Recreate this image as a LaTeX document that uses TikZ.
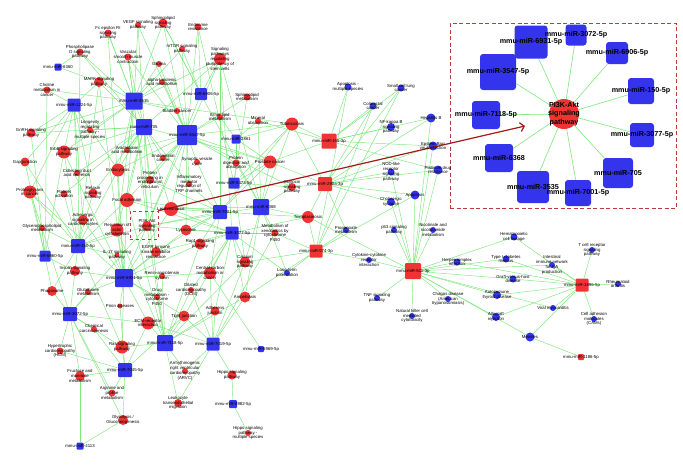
\documentclass[tikz,border=0pt]{standalone}
\usepackage{fontspec}
\setmainfont{Liberation Sans}
\usetikzlibrary{arrows.meta}
\definecolor{redc}{RGB}{240,52,52}
\definecolor{bluec}{RGB}{52,52,236}
\definecolor{edgec}{RGB}{125,232,125}
\definecolor{boxc}{RGB}{185,60,60}
\definecolor{arrc}{RGB}{165,25,25}
\pgfdeclarelayer{bg}\pgfdeclarelayer{fg}\pgfdeclarelayer{paper}\pgfsetlayers{paper,bg,main,fg}
\tikzset{
  lab/.style={font=\fontsize{4.3pt}{4.8pt}\selectfont, align=center, inner sep=0pt, text=black},
  ilab/.style={font=\bfseries\fontsize{7.2pt}{8.4pt}\selectfont, align=center, inner sep=0pt, text=black},
  rcirc/.style={circle, fill=redc, inner sep=0pt},
  bcirc/.style={circle, fill=bluec, inner sep=0pt},
  bsq/.style={rectangle, rounded corners=1pt, fill=bluec, inner sep=0pt},
  rsq/.style={rectangle, rounded corners=1pt, fill=redc, inner sep=0pt},
  isq/.style={rectangle, rounded corners=3pt, fill=bluec, inner sep=0pt},
  edge/.style={draw=edgec, line width=0.45pt},
  iedge/.style={draw=edgec, line width=0.6pt},
}
\newcommand\mkrc[5]{\node[rcirc, minimum size=#4pt] (#1) at (#2,#3) {};\begin{pgfonlayer}{fg}\node[lab] (#1-l) at (#2,#3) {#5};\end{pgfonlayer}}
\newcommand\mkbc[5]{\node[bcirc, minimum size=#4pt] (#1) at (#2,#3) {};\begin{pgfonlayer}{fg}\node[lab] (#1-l) at (#2,#3) {#5};\end{pgfonlayer}}
\newcommand\mkbs[5]{\node[bsq, minimum size=#4pt] (#1) at (#2,#3) {};\begin{pgfonlayer}{fg}\node[lab] (#1-l) at (#2,#3) {#5};\end{pgfonlayer}}
\newcommand\mkrs[5]{\node[rsq, minimum size=#4pt] (#1) at (#2,#3) {};\begin{pgfonlayer}{fg}\node[lab] (#1-l) at (#2,#3) {#5};\end{pgfonlayer}}
\newcommand\mkis[5]{\node[isq, minimum size=#4pt] (#1) at (#2,#3) {};\begin{pgfonlayer}{fg}\node[ilab] (#1-l) at (#2,#3) {#5};\end{pgfonlayer}}
\begin{document}
\begin{tikzpicture}[x=1pt,y=-1pt]
\useasboundingbox (0,0) rectangle (683,467);
\begin{pgfonlayer}{paper}
\fill[white] (0,0) rectangle (683,467);
\end{pgfonlayer}
% ---------- red pathway circles ----------
\mkrc{vegf}{138}{25}{6}{VEGF signaling\\pathway}
\mkrc{sphsig}{163}{23}{9}{Sphingolipid\\signaling\\pathway}
\mkrc{endores}{198}{27}{7}{Endocrine\\resistance}
\mkrc{fceri}{108}{33}{7}{Fc epsilon RI\\signaling\\pathway}
\mkrc{pld}{80}{52}{7}{Phospholipase\\D signaling\\pathway}
\mkrc{vsmc}{128}{57}{7}{Vascular\\smooth muscle\\contraction}
\mkrc{mtor}{182}{49}{6}{mTOR signaling\\pathway}
\mkrc{plurip}{220}{59}{12}{Signaling\\pathways\\regulating\\pluripotency of\\stem cells}
\mkrc{glioma}{159}{64}{6}{Glioma}
\mkrc{mapk}{99}{82}{10}{MAPK signaling\\pathway}
\mkrc{alinol}{162}{82}{6}{alpha-Linolenic\\acid metabolism}
\mkrc{choline}{47}{90}{7}{Choline\\metabolism in\\cancer}
\mkrc{bladder}{177}{111}{6}{Bladder cancer}
\mkrc{ether}{220}{117}{6}{Ether lipid\\metabolism}
\mkrc{sphmet}{247}{97}{7}{Sphingolipid\\metabolism}
\mkrc{mineral}{258}{121}{6}{Mineral\\absorption}
\mkrc{tuber}{292}{124}{13}{Tuberculosis}
\mkrc{longev}{90}{130}{6}{Longevity\\regulating\\pathway -\\multiple species}
\mkrc{gnrh}{31}{133}{9}{GnRH signaling\\pathway}
\mkrc{erbb}{64}{152}{13}{ErbB signaling\\pathway}
\mkrc{arach}{127}{150}{6}{Arachidonic\\acid metabolism}
\mkrc{endomet}{163}{158}{6}{Endometrial\\cancer}
\mkrc{synves}{197}{162}{6}{Synaptic vesicle\\cycle}
\mkrc{protdig}{236}{163}{7}{Protein\\digestion and\\absorption}
\mkrc{prostate}{270}{162}{13}{Prostate cancer}
\mkrc{gapj}{25}{162}{9}{Gap junction}
\mkrc{cduct}{77}{173}{6}{Collecting duct\\acid secretion}
\mkrc{endocyt}{118}{170}{13}{Endocytosis}
\mkrc{protproc}{150}{180}{8}{Protein\\processing in\\endoplasmic\\reticulum}
\mkrc{trp}{189}{184}{6}{Inflammatory\\mediator\\regulation of\\TRP channels}
\mkrc{oxyt}{292}{187}{8}{Oxytocin\\signaling\\pathway}
\mkrc{proteog}{30}{192}{13}{Proteoglycans\\in cancer}
\mkrc{platelet}{64}{194}{7}{Platelet\\activation}
\mkrc{relaxin}{93}{193}{9}{Relaxin\\signaling\\pathway}
\mkrc{focal}{127}{200}{14}{Focal adhesion}
\mkrc{leish}{171}{209}{14}{Leishmaniasis}
\mkrc{toxo}{308}{217}{12}{Toxoplasmosis}
\mkrc{adren}{83}{220}{10}{Adrenergic\\signaling in\\cardiomyocytes}
\mkrc{glycero}{42}{228}{6}{Glycerophospholipid\\metabolism}
\mkrc{actin}{117}{230}{13}{Regulation of\\actin\\cytoskeleton}
\mkrc{pi3k}{147}{226}{10}{PI3K-Akt\\signaling\\pathway}
\mkrc{lysos}{186}{230}{11}{Lysosome}
\mkrc{xeno}{275}{233}{7}{Metabolism of\\xenobiotics by\\cytochrome\\P450}
\mkrc{rap1}{200}{244}{11}{Rap1 signaling\\pathway}
\mkrc{il17}{117}{255}{5}{IL-17 signaling\\pathway}
\mkrc{egfr}{156}{252}{10}{EGFR tyrosine\\kinase inhibitor\\resistance}
\mkrc{calcium}{245}{262}{11}{Calcium\\signaling\\pathway}
\mkrc{insulin}{75}{271}{10}{Insulin signaling\\pathway}
\mkrc{renin}{162}{276}{6}{Renin-angiotensin\\system}
\mkrc{ccmc}{210}{273}{12}{Central carbon\\metabolism in\\cancer}
\mkrc{phago}{52}{291}{10}{Phagosome}
\mkrc{glut}{88}{292}{6}{Glutathione\\metabolism}
\mkrc{drug}{157}{297}{6}{Drug\\metabolism -\\cytochrome\\P450}
\mkrc{dcm}{191}{290}{6}{Dilated\\cardiomyopathy\\(DCM)}
\mkrc{amoeb}{245}{297}{11}{Amoebiasis}
\mkrc{prion}{120}{306}{5}{Prion diseases}
\mkrc{adherens}{215}{311}{9}{Adherens\\junction}
\mkrc{tight}{184}{316}{11}{Tight junction}
\mkrc{ecm}{148}{323}{13}{ECM-receptor\\interaction}
\mkrc{chemcarc}{94}{329}{6}{Chemical\\carcinogenesis}
\mkrc{hcm}{60}{351}{7}{Hypertrophic\\cardiomyopathy\\(HCM)}
\mkrc{ras}{122}{347}{13}{Ras signaling\\pathway}
\mkrc{arvc}{185}{371}{6}{Arrhythmogenic\\right ventricular\\cardiomyopathy\\(ARVC)}
\mkrc{fructose}{80}{376}{10}{Fructose and\\mannose\\metabolism}
\mkrc{hippo}{232}{375}{9}{Hippo signaling\\pathway}
\mkrc{arginine}{112}{393}{7}{Arginine and\\proline\\metabolism}
\mkrc{leuko}{178}{403}{8}{Leukocyte\\transendothelial\\migration}
\mkrc{glycol}{123}{420}{10}{Glycolysis /\\Gluconeogenesis}
\mkrc{hippomult}{248}{433}{6}{Hippo signaling\\pathway -\\multiple species}
% ---------- blue pathway circles ----------
\mkbc{apopmult}{348}{87}{7}{Apoptosis -\\multiple species}
\mkbc{sclc}{401}{88}{7}{Small cell lung\\cancer}
\mkbc{colorectal}{373}{106}{7}{Colorectal\\cancer}
\mkbc{nfkb}{391}{127}{8}{NF-kappa B\\signaling\\pathway}
\mkbc{hepb}{431}{118}{9}{Hepatitis B}
\mkbc{ebv}{433}{146}{9}{Epstein-Barr\\virus infection}
\mkbc{nod}{391}{172}{7}{NOD-like\\receptor\\signaling\\pathway}
\mkbc{platinum}{438}{170}{9}{Platinum drug\\resistance}
\mkbc{apoptosis}{415}{195}{9}{Apoptosis}
\mkbc{cholin}{391}{202}{8}{Cholinergic\\synapse}
\mkbc{propan}{346}{230}{6}{Propanoate\\metabolism}
\mkbc{p53}{394}{230}{6}{p53 signaling\\pathway}
\mkbc{nicot}{433}{230}{6}{Nicotinate and\\nicotinamide\\metabolism}
\mkbc{cytok}{369}{260}{6}{Cytokine-cytokine\\receptor\\interaction}
\mkbc{ltp}{287}{273}{6}{Long-term\\potentiation}
\mkbc{tnf}{377}{298}{6}{TNF signaling\\pathway}
\mkbc{chagas}{448}{299}{6}{Chagas disease\\(American\\trypanosomiasis)}
\mkbc{nk}{412}{316}{6}{Natural killer cell\\mediated\\cytotoxicity}
\mkbc{hema}{514}{237}{7}{Hematopoietic\\cell lineage}
\mkbc{tcr}{592}{250}{6}{T cell receptor\\signaling\\pathway}
\mkbc{t1d}{506}{259}{7}{Type I diabetes\\mellitus}
\mkbc{herpes}{457}{262}{7}{Herpes simplex\\infection}
\mkbc{iga}{552}{265}{6}{Intestinal\\immune network\\for IgA\\production}
\mkbc{gvhd}{513}{279}{7}{Graft-versus-host\\disease}
\mkbc{rheum}{618}{284}{6}{Rheumatoid\\arthritis}
\mkbc{autothy}{497}{295}{8}{Autoimmune\\thyroid disease}
\mkbc{viral}{553}{308}{6}{Viral myocarditis}
\mkbc{allo}{496}{317}{8}{Allograft\\rejection}
\mkbc{cams}{594}{319}{6}{Cell adhesion\\molecules\\(CAMs)}
\mkbc{measles}{530}{337}{9}{Measles}
% ---------- miRNA hubs ----------
\mkbs{h3535}{134}{101}{17}{mmu-miR-3535}
\mkbs{h705}{144}{127}{16}{mmu-miR-705}
\mkbs{h3547}{187}{135}{20}{mmu-miR-3547-5p}
\mkbs{h6906}{201}{94}{12}{mmu-miR-6906-5p}
\mkbs{h1224}{74}{105}{13}{mmu-miR-1224-5p}
\mkbs{h6360}{58}{67}{7}{mmu-miR-6360}
\mkbs{h2861}{236}{139}{9}{mmu-miR-2861}
\mkbs{h5373}{234}{183}{11}{mmu-miR-5373-5p}
\mkbs{h7001}{220}{212}{14}{mmu-miR-7001-5p}
\mkbs{h6368}{261}{207}{16}{mmu-miR-6368}
\mkbs{h3077}{232}{233}{13}{mmu-miR-3077-5p}
\mkbs{h150}{78}{246}{14}{mmu-miR-150-5p}
\mkbs{h6960}{45}{256}{11}{mmu-miR-6960-5p}
\mkbs{h6931}{124}{278}{18}{mmu-miR-6931-5p}
\mkbs{h3072}{70}{314}{14}{mmu-miR-3072-5p}
\mkbs{h7118}{165}{343}{16}{mmu-miR-7118-5p}
\mkbs{h7019}{213}{344}{13}{mmu-miR-7019-5p}
\mkbs{h7045}{125}{370}{14}{mmu-miR-7045-5p}
\mkbs{h6969}{261}{349}{6}{mmu-miR-6969-5p}
\mkbs{h6982}{233}{404}{8}{mmu-miR-6982-5p}
\mkbs{h4113}{80}{446}{7}{mmu-miR-4113}
\mkrs{r155}{329}{141}{15}{mmu-miR-155-3p}
\mkrs{r290}{325}{184}{14}{mmu-miR-290a-3p}
\mkrs{r574}{316}{251}{13}{mmu-miR-574-3p}
\mkrs{r511}{413}{271}{16}{mmu-miR-511-3p}
\mkrs{r1896}{582}{285}{13}{mmu-miR-1896-5p}
\mkrs{r1186}{581}{357}{6}{mmu-miR-1186-5p}
% ---------- edges ----------
\begin{pgfonlayer}{bg}
\foreach \p in {vegf,sphsig,fceri,pld,vsmc,mtor,plurip,glioma,mapk,alinol,choline,bladder,tuber,longev,gnrh,erbb,arach,endocyt,focal,actin,pi3k} \draw[edge] (h3535) -- (\p);
\foreach \p in {vegf,fceri,pld,vsmc,plurip,mapk,longev,gnrh,erbb,arach,endomet,cduct,endocyt,protproc,trp,platelet,relaxin,focal,leish,actin,egfr,prostate,pi3k} \draw[edge] (h705) -- (\p);
\foreach \p in {vegf,sphsig,endores,vsmc,mtor,plurip,glioma,alinol,bladder,ether,sphmet,tuber,arach,endomet,synves,protdig,prostate,endocyt,protproc,trp,oxyt,focal,leish,lysos,pi3k} \draw[edge] (h3547) -- (\p);
\foreach \p in {sphsig,endores,mtor,plurip,pi3k} \draw[edge] (h6906) -- (\p);
\foreach \p in {mapk,choline,longev,gnrh,erbb,gapj,cduct,endocyt,proteog,relaxin,adren} \draw[edge] (h1224) -- (\p);
\foreach \p in {pld,mapk} \draw[edge] (h6360) -- (\p);
\foreach \p in {ether,mineral,tuber,protdig,prostate} \draw[edge] (h2861) -- (\p);
\foreach \p in {endores,sphmet,tuber,protdig,prostate,oxyt,calcium} \draw[edge] (h5373) -- (\p);
\foreach \p in {plurip,tuber,synves,prostate,protproc,trp,focal,leish,toxo,lysos,rap1,egfr,ccmc,pi3k} \draw[edge] (h7001) -- (\p);
\foreach \p in {sphsig,plurip,mineral,tuber,protdig,prostate,oxyt,leish,toxo,xeno,calcium,amoeb,ltp,pi3k} \draw[edge] (h6368) -- (\p);
\foreach \p in {plurip,focal,leish,toxo,lysos,xeno,rap1,egfr,calcium,ccmc,dcm,amoeb,adherens,tight,ltp,pi3k} \draw[edge] (h3077) -- (\p);
\foreach \p in {pld,mapk,erbb,gapj,endocyt,proteog,platelet,relaxin,focal,adren,glycero,actin,il17,insulin,phago,ras,pi3k} \draw[edge] (h150) -- (\p);
\foreach \p in {choline,gnrh,erbb,gapj,proteog,glycero,insulin,phago} \draw[edge] (h6960) -- (\p);
\foreach \p in {fceri,mapk,erbb,endocyt,proteog,focal,leish,adren,actin,lysos,rap1,il17,egfr,insulin,renin,ccmc,glut,drug,prion,tight,ecm,ras,pi3k} \draw[edge] (h6931) -- (\p);
\foreach \p in {proteog,insulin,phago,glut,ecm,chemcarc,hcm,ras,fructose,arginine,glycol,pi3k} \draw[edge] (h3072) -- (\p);
\foreach \p in {vsmc,focal,actin,rap1,calcium,renin,drug,dcm,amoeb,adherens,tight,ecm,ras,arvc,leuko,pi3k} \draw[edge] (h7118) -- (\p);
\foreach \p in {xeno,calcium,ccmc,dcm,amoeb,adherens,tight,ecm,arvc,hippo,leuko} \draw[edge] (h7019) -- (\p);
\foreach \p in {prion,tight,ecm,chemcarc,hcm,ras,fructose,arginine,glycol} \draw[edge] (h7045) -- (\p);
\draw[edge] (h6969) -- (ccmc);
\foreach \p in {hippo,hippomult} \draw[edge] (h6982) -- (\p);
\foreach \p in {fructose,glycol} \draw[edge] (h4113) -- (\p);
\foreach \p in {apopmult,sclc,colorectal,nfkb,hepb,ebv,tuber,mineral,prostate,platinum} \draw[edge] (r155) -- (\p);
\foreach \p in {oxyt,nod,cholin,apoptosis,propan,toxo,prostate,hepb,ebv,colorectal,sclc,platinum,tuber} \draw[edge] (r290) -- (\p);
\foreach \p in {toxo,propan,xeno,amoeb,calcium,ltp,apoptosis,sclc,colorectal,apopmult,cytok} \draw[edge] (r574) -- (\p);
\foreach \p in {herpes,hema,t1d,gvhd,autothy,chagas,allo,nk,tnf,cytok,p53,nicot,platinum,apoptosis,toxo,measles,hepb,ebv,nod,cholin,iga,viral} \draw[edge] (r511) -- (\p);
\foreach \p in {hema,tcr,t1d,iga,gvhd,rheum,autothy,viral,allo,cams,measles,herpes} \draw[edge] (r1896) -- (\p);
\draw[edge] (r1186) -- (measles);
\end{pgfonlayer}
% ---------- highlight box and arrow ----------
\node[draw=boxc, dashed, line width=0.6pt, minimum size=28pt, inner sep=0pt] (pibox) at (144,225) {};
\node[draw=boxc, dashed, dash pattern=on 4pt off 2.5pt, line width=0.8pt, minimum width=226pt, minimum height=185pt, inner sep=0pt] (inset) at (563,115.5) {};
\coordinate (arrend) at (525,126);
\draw[arrc, line width=1.2pt, -{Straight Barb[length=4pt,width=9pt]}] (pibox.north east) -- (arrend);
% ---------- inset ----------
\node[rcirc, minimum size=30pt] (ipi3k) at (564,114) {};
\mkis{i6931}{531}{42}{33}{mmu-miR-6931-5p}
\mkis{i3072}{576}{35}{21}{mmu-miR-3072-5p}
\mkis{i6906}{617}{53}{22}{mmu-miR-6906-5p}
\mkis{i3547}{498}{72}{36}{mmu-miR-3547-5p}
\mkis{i150}{641}{91}{26}{mmu-miR-150-5p}
\mkis{i7118}{486}{115}{28}{mmu-miR-7118-5p}
\mkis{i3077}{642}{135}{24}{mmu-miR-3077-5p}
\mkis{i6368}{499}{158}{28}{mmu-miR-6368}
\mkis{i705}{618}{173}{30}{mmu-miR-705}
\mkis{i3535}{533}{187}{32}{mmu-miR-3535}
\mkis{i7001}{578}{193}{26}{mmu-miR-7001-5p}
\begin{pgfonlayer}{fg}
\node[ilab] (ipi3k-l) at (564,114) {PI3K-Akt\\signaling\\pathway};
\end{pgfonlayer}
\begin{pgfonlayer}{bg}
\foreach \h in {i6931,i3072,i6906,i3547,i150,i7118,i3077,i6368,i705,i3535,i7001} \draw[iedge] (ipi3k) -- (\h);
\end{pgfonlayer}
\end{tikzpicture}
\end{document}
